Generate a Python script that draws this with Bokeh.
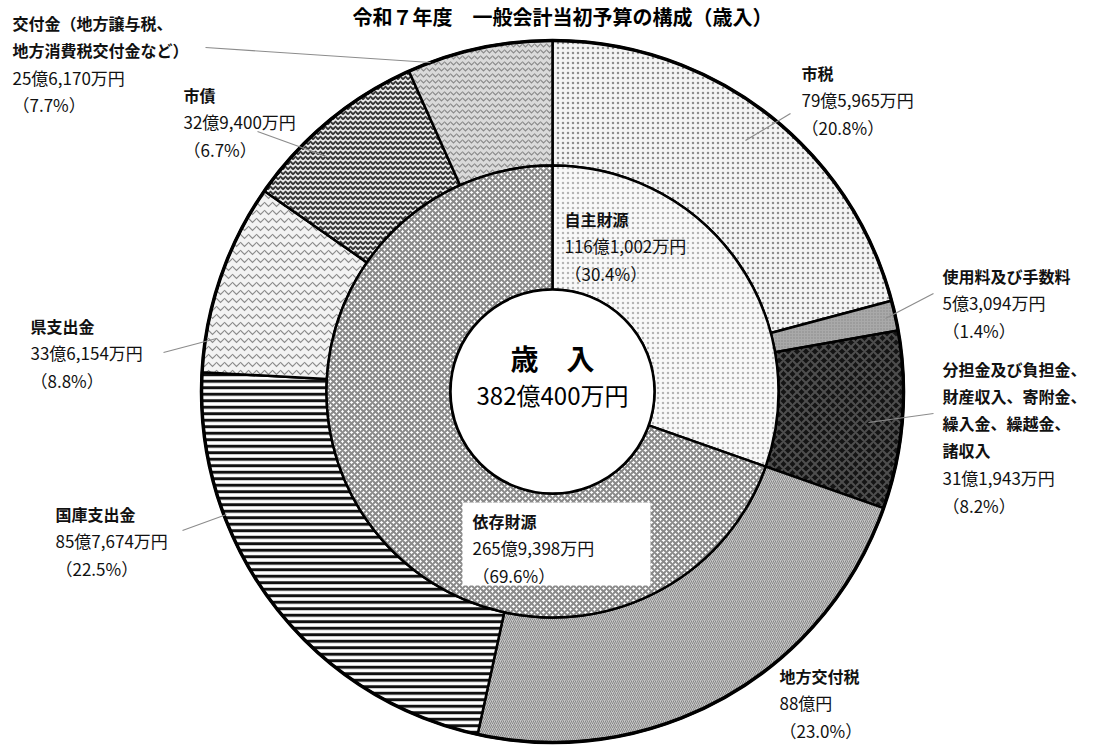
import numpy as np
from bokeh.plotting import figure
from bokeh.models import Range1d, ColumnDataSource
from bokeh.core.properties import value
from bokeh.embed import file_html
from bokeh.resources import INLINE

# ---------------- data ----------------
title_text = "令和７年度　一般会計当初予算の構成（歳入）"
center_title = "歳　入"
center_total = "382億400万円"

outer_names = ["市税", "使用料及び手数料",
               "分担金及び負担金、\n財産収入、寄附金、\n繰入金、繰越金、\n諸収入",
               "地方交付税", "国庫支出金", "県支出金", "市債",
               "交付金（地方譲与税、\n地方消費税交付金など）"]
outer_amounts = [795965, 53094, 311943, 880000, 857674, 336154, 329400, 256170]  # 万円
outer_amount_text = ["79億5,965万円", "5億3,094万円", "31億1,943万円", "88億円",
                     "85億7,674万円", "33億6,154万円", "32億9,400万円", "25億6,170万円"]
outer_pct_text = ["20.8%", "1.4%", "8.2%", "23.0%", "22.5%", "8.8%", "6.7%", "7.7%"]

inner_names = ["自主財源", "依存財源"]
inner_amounts = [1161002, 2659398]
inner_amount_text = ["116億1,002万円", "265億9,398万円"]
inner_pct_text = ["30.4%", "69.6%"]

# ---------------- layout / style ----------------
W, H = 1101, 747
FONT = value("Noto Sans CJK JP")


def Y(py):
    return H - py


cx, cy = 552, Y(391)
R_out, R_mid, R_in = 351, 226, 102

p = figure(width=W, height=H, x_range=Range1d(0, W), y_range=Range1d(0, H),
           output_backend="svg", toolbar_location=None, min_border=0)
p.axis.visible = False
p.grid.visible = False
p.outline_line_color = None
p.background_fill_color = "white"
p.border_fill_color = "white"


def angles(amounts):
    a = np.array(amounts, dtype=float)
    cum = np.concatenate([[0.0], np.cumsum(a / a.sum())])
    start = np.pi / 2 - 2 * np.pi * cum[1:]
    end = np.pi / 2 - 2 * np.pi * cum[:-1]
    return start, end


# outer ring
o_start, o_end = angles(outer_amounts)
outer_src = ColumnDataSource(dict(
    start=o_start, end=o_end,
    fill=["#f4f4f4", "#a9a9a9", "#141414", "#c6c6c6", "#ffffff", "#f3f3f3", "#e6e6e6", "#dadada"],
    hatch=[".", ".", "x", "/", "-", "v", "v", "v"],
    hcolor=["#8e8e8e", "#8a8a8a", "#4e4e4e", "#888888", "#111111", "#8c8c8c", "#333333", "#8a8a8a"],
    hscale=[5, 3, 9, 4, 6.5, 8, 5, 6],
    hweight=[1.2, 1, 2, 1, 3, 1.2, 1.8, 1.2],
))
p.annular_wedge(x=cx, y=cy, inner_radius=R_mid, outer_radius=R_out,
                start_angle="start", end_angle="end", source=outer_src,
                fill_color="fill", hatch_pattern="hatch", hatch_color="hcolor",
                hatch_scale="hscale", hatch_weight="hweight",
                line_color="black", line_width=2.5)

# inner ring
i_start, i_end = angles(inner_amounts)
inner_src = ColumnDataSource(dict(
    start=i_start, end=i_end,
    fill=["#f8f8f8", "#ffffff"],
    hatch=[".", "x"],
    hcolor=["#b4b4b4", "#8a8a8a"],
    hscale=[5, 6],
    hweight=[1.2, 2],
))
p.annular_wedge(x=cx, y=cy, inner_radius=R_in, outer_radius=R_mid,
                start_angle="start", end_angle="end", source=inner_src,
                fill_color="fill", hatch_pattern="hatch", hatch_color="hcolor",
                hatch_scale="hscale", hatch_weight="hweight",
                line_color="black", line_width=2.5)

# circle outlines
p.circle(x=[cx], y=[cy], radius=R_out, fill_color=None, line_color="black", line_width=3.5)
p.circle(x=[cx], y=[cy], radius=R_in, fill_color="white", line_color="black", line_width=2.5)

# white box behind 依存財源 label
p.quad(left=[462], right=[650], bottom=[Y(585)], top=[Y(502)],
       fill_color="white", line_color=None)

# leader lines (pixel coords)
leaders = [
    ((790, 113), (745, 140)),   # 市税
    ((933, 293), (885, 318)),   # 使用料
    ((933, 413), (868, 422)),   # 分担金
    ((182, 530), (226, 514)),   # 国庫支出金
    ((163, 352), (216, 338)),   # 県支出金
    ((257, 131), (326, 156)),   # 市債
    ((205, 47), (430, 62)),     # 交付金
]
p.segment(x0=[a[0] for a, b in leaders], y0=[Y(a[1]) for a, b in leaders],
          x1=[b[0] for a, b in leaders], y1=[Y(b[1]) for a, b in leaders],
          line_color="#8c8c8c", line_width=1.2)

# label anchors (pixel coords of first line)
outer_anchor = [(801, 72), (942, 275), (942, 368), (779, 675),
                (55, 513), (30, 325), (183, 94), (12, 22)]
inner_anchor = [(564, 218), (472, 520)]
GAP = 27.3

bx, by, bt = [], [], []
nx, ny, nt = [], [], []


def add_block(name, amt, pct, anchor):
    x0, y0 = anchor
    lines = name.split("\n")
    for k, ln in enumerate(lines):
        bx.append(x0); by.append(Y(y0 + k * GAP)); bt.append(ln)
    k = len(lines)
    nx.append(x0); ny.append(Y(y0 + k * GAP)); nt.append(amt)
    nx.append(x0); ny.append(Y(y0 + (k + 1) * GAP)); nt.append("（" + pct + "）")


for i in range(len(outer_names)):
    add_block(outer_names[i], outer_amount_text[i], outer_pct_text[i], outer_anchor[i])
for i in range(len(inner_names)):
    add_block(inner_names[i], inner_amount_text[i], inner_pct_text[i], inner_anchor[i])

p.text(x=bx, y=by, text=bt, text_font=FONT, text_font_size="16px", text_font_style="bold",
       text_baseline="middle", text_align="left", text_color="#111111")
p.text(x=nx, y=ny, text=nt, text_font=FONT, text_font_size="17px",
       text_baseline="middle", text_align="left", text_color="#111111")

# center texts
p.text(x=[cx], y=[Y(357)], text=[center_title], text_font=FONT, text_font_size="28px",
       text_font_style="bold", text_baseline="middle", text_align="center", text_color="black")
p.text(x=[cx], y=[Y(394)], text=[center_total], text_font=FONT, text_font_size="24px",
       text_baseline="middle", text_align="center", text_color="black")

# title
p.text(x=[562], y=[Y(1)], text=[title_text], text_font=FONT, text_font_size="20px",
       text_font_style="bold", text_baseline="top", text_align="center", text_color="black")

open("out.html", "w").write(file_html(p, INLINE))
